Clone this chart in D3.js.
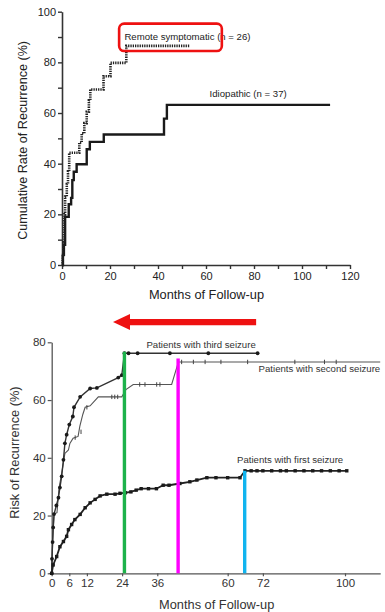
<!DOCTYPE html>
<html>
<head>
<meta charset="utf-8">
<script src="https://cdn.jsdelivr.net/npm/d3@7"></script>
<style>
  html, body { margin: 0; padding: 0; background: #fff; }
  svg { display: block; font-family: "Liberation Sans", Arial, sans-serif; }
</style>
</head>
<body>
<svg id="chart" width="385" height="612"></svg>
<script>
// ---- Upper panel: cumulative recurrence by aetiology (step curves) ----
const remoteMonths = [0, 0.3, 0.6, 1.0, 1.3, 2.0, 2.5, 3.0, 7.2, 8.2, 9.3, 10.3, 11.2, 11.8, 17.3, 20.2, 26.8, 53.3];
const remoteRate   = [0, 4, 9, 20, 27, 32, 37, 44.3, 48.3, 52, 56, 60.5, 65, 69.3, 74.5, 79.8, 86.5, 86.5];

const idioMonths = [0, 0.4, 0.8, 1.3, 2.8, 3.8, 4.3, 4.9, 6.1, 10.3, 11.6, 17.4, 42.5, 43.7, 111.7];
const idioRate   = [0, 4, 8, 19, 24, 26.5, 33.5, 36.8, 39.8, 45.7, 48.6, 51.5, 57.8, 63.2, 63.2];

const topXTicks = [0, 20, 40, 60, 80, 100, 120];
const topXMinor = [10, 30, 50, 70, 90, 110];
const topYTicks = [0, 20, 40, 60, 80, 100];
const topYMinor = [10, 30, 50, 70, 90];

// ---- Lower panel: risk of recurrence after first, second and third seizure ----
const thirdMonths = [0, 0.1, 0.3, 0.5, 0.8, 1.6, 2.3, 2.8, 3.4, 4.0, 4.5, 5.1, 6.0, 7.2, 7.6, 9.7, 13.1, 15.4, 22.7, 23.9, 24.8, 26.2, 29.3, 40.3, 53.4, 70.2];
const thirdRisk   = [0, 5, 10.8, 15.9, 20.5, 23.5, 26.2, 29.7, 33.6, 39.3, 45, 48, 51.5, 54.3, 57.5, 61.1, 64, 64.2, 67.8, 68.6, 76.2, 76.2, 76.2, 76.2, 76.2, 76.2];

const secondMonths = [0, 0.3, 0.8, 1.8, 2.5, 3.4, 4.5, 5.7, 6.2, 7.3, 9.0, 9.6, 10.6, 11.4, 13.1, 15.9, 23.9, 25.3, 27.8, 40.9, 43.2, 112];
const secondRisk   = [0, 10, 20.5, 21, 29.5, 34.6, 41.5, 42.7, 45, 46.8, 47.4, 51, 55, 57.5, 58, 61.1, 61.1, 63.6, 65.4, 65.4, 73.2, 73.2];
const secondCensorMonths = [3.0, 8.0, 10.0, 12.0, 20.5, 21.5, 22.5, 30, 31.8, 35.8, 36.9, 44.3, 48.3, 52.3, 57.7, 66.8, 82.9, 93, 97];
const secondCensorRisk   = [30, 47, 49, 57.5, 61.1, 61.1, 61.1, 65.4, 65.4, 65.4, 65.4, 73.2, 73.2, 73.2, 73.2, 73.2, 73.2, 73.2, 73.2];

const firstMonths = [0, 0.5, 1.7, 2.8, 4.0, 5.1, 5.7, 6.8, 7.9, 9.7, 11.4, 13.1, 14.8, 16.5, 18.8, 21.6, 23.3, 25.1, 27.0, 28.8, 30.5, 33, 35.7, 38, 40, 43.7, 47.1, 49.5, 52.9, 56, 60, 64.2, 65.9, 68, 70, 72, 75, 78, 80, 83, 86, 89, 92, 95, 98, 100.6];
const firstRisk   = [0, 2.9, 5.8, 9.2, 11, 12.8, 15.1, 16.9, 18.6, 20.4, 22.7, 24.4, 25.6, 26.8, 27.4, 27.4, 27.7, 27.9, 28.2, 28.8, 29.3, 29.3, 29.3, 30.5, 30.5, 31.1, 31.7, 32.3, 33.1, 33.1, 33.1, 33.1, 35.5, 35.5, 35.5, 35.5, 35.5, 35.5, 35.5, 35.5, 35.5, 35.5, 35.5, 35.5, 35.5, 35.5];

const botXTicks = [0, 6, 12, 24, 36, 60, 72, 100];
const botYTicks = [0, 20, 40, 60, 80];

// Highlight bars marking where each curve reaches its plateau
const markerMonths = [24.8, 43.1, 65.8];
const markerRisk   = [76.7, 74.4, 35.5];
const markerColors = ["#1db24b", "#ff00ff", "#10b4ef"];

const svg = d3.select("#chart");
const ink = "#1a1a1a";

// ================= Upper panel =================
const xT = d3.scaleLinear().domain([0, 120]).range([62, 350]);
const yT = d3.scaleLinear().domain([0, 100]).range([265, 11.7]);
const upper = svg.append("g");

upper.append("g").attr("transform", `translate(0,${yT(0)})`)
  .call(d3.axisBottom(xT).tickValues(topXTicks).tickSize(4).tickPadding(3).tickSizeOuter(0).tickFormat(d3.format("d")));
upper.append("g").attr("transform", `translate(0,${yT(0)})`)
  .call(d3.axisBottom(xT).tickValues(topXMinor).tickSize(4).tickFormat(""))
  .call(g => g.select(".domain").remove());
upper.append("g").attr("transform", `translate(${xT(0)},0)`)
  .call(d3.axisLeft(yT).tickValues(topYTicks).tickSize(4).tickPadding(2).tickSizeOuter(0).tickFormat(d3.format("d")));
upper.append("g").attr("transform", `translate(${xT(0)},0)`)
  .call(d3.axisLeft(yT).tickValues(topYMinor).tickSize(4).tickFormat(""))
  .call(g => g.select(".domain").remove());
upper.selectAll(".domain").attr("stroke", "#333").attr("stroke-width", 1.6);
upper.selectAll(".tick line").attr("stroke", "#333").attr("stroke-width", 1.4);
upper.selectAll(".tick text").attr("font-size", 11).attr("fill", "#222")
  .attr("font-family", "'Liberation Sans', Arial, sans-serif");

// step curves
const stepLine = (xs, ys) => d3.line().x((d, i) => xT(xs[i])).y((d, i) => yT(ys[i])).curve(d3.curveStepAfter)(xs);
upper.append("path").attr("d", stepLine(idioMonths, idioRate))
  .attr("fill", "none").attr("stroke", ink).attr("stroke-width", 2.4);
upper.append("path").attr("d", stepLine(remoteMonths, remoteRate))
  .attr("fill", "none").attr("stroke", "#222").attr("stroke-width", 2.6)
  .attr("stroke-dasharray", "1.3,1");

upper.append("text").attr("x", xT(26)).attr("y", yT(88.7))
  .attr("font-size", 9.6).attr("fill", "#222").text("Remote symptomatic (n = 26)");
upper.append("text").attr("x", xT(61.5)).attr("y", yT(66.2))
  .attr("font-size", 9.6).attr("fill", "#222").text("Idiopathic (n = 37)");

// red emphasis frame around the first legend text
upper.append("rect")
  .attr("x", xT(23.8)).attr("y", yT(95.3))
  .attr("width", xT(66.6) - xT(23.8)).attr("height", yT(84.5) - yT(95.3))
  .attr("rx", 5).attr("fill", "none").attr("stroke", "#ee1111").attr("stroke-width", 2.6);

upper.append("text").attr("transform", `translate(22.5,${yT(50) + 2}) rotate(-90)`)
  .attr("text-anchor", "middle").attr("dy", "0.35em").attr("font-size", 12.6).attr("fill", "#222")
  .text("Cumulative Rate of Recurrence (%)");
upper.append("text").attr("x", 206.5).attr("y", 299)
  .attr("text-anchor", "middle").attr("font-size", 12.8).attr("fill", "#222")
  .text("Months of Follow-up");

// ================= Lower panel =================
const xB = d3.scaleLinear().domain([0, 112]).range([51.7, 380.2]);
const yB = d3.scaleLinear().domain([0, 80]).range([573.3, 342.3]);
const lower = svg.append("g");

lower.append("g").attr("transform", `translate(0,${yB(0)})`)
  .call(d3.axisBottom(xB).tickValues(botXTicks).tickSize(3).tickPadding(3).tickSizeOuter(0).tickFormat(d3.format("d")));
lower.append("g").attr("transform", `translate(${xB(0)},0)`)
  .call(d3.axisLeft(yB).tickValues(botYTicks).tickSize(4).tickPadding(2).tickSizeOuter(0).tickFormat(d3.format("d")));
lower.selectAll(".domain").attr("stroke", "#555").attr("stroke-width", 1.3);
lower.selectAll(".tick line").attr("stroke", "#555").attr("stroke-width", 1.2);
lower.selectAll(".tick text").attr("font-size", 11.5).attr("fill", "#333")
  .attr("font-family", "'Liberation Sans', Arial, sans-serif");

const polyline = (xs, ys) => d3.line().x((d, i) => xB(xs[i])).y((d, i) => yB(ys[i]))(xs);

// second seizure: thin line with vertical censor ticks
lower.append("path").attr("d", polyline(secondMonths, secondRisk))
  .attr("fill", "none").attr("stroke", "#555").attr("stroke-width", 1.1);
lower.append("g").selectAll("line").data(secondCensorMonths).join("line")
  .attr("x1", d => xB(d)).attr("x2", d => xB(d))
  .attr("y1", (d, i) => yB(secondCensorRisk[i]) - 2.2)
  .attr("y2", (d, i) => yB(secondCensorRisk[i]) + 2.2)
  .attr("stroke", "#444").attr("stroke-width", 1);

// third seizure: line with filled dots
lower.append("path").attr("d", polyline(thirdMonths, thirdRisk))
  .attr("fill", "none").attr("stroke", "#333").attr("stroke-width", 1.4);
lower.append("g").selectAll("circle").data(thirdMonths).join("circle")
  .attr("cx", d => xB(d)).attr("cy", (d, i) => yB(thirdRisk[i])).attr("r", 1.9)
  .attr("fill", ink);

// first seizure: heavy line with square markers
lower.append("path").attr("d", polyline(firstMonths, firstRisk))
  .attr("fill", "none").attr("stroke", "#222").attr("stroke-width", 1.8);
lower.append("g").selectAll("rect").data(firstMonths).join("rect")
  .attr("x", d => xB(d) - 1.7).attr("y", (d, i) => yB(firstRisk[i]) - 1.7)
  .attr("width", 3.4).attr("height", 3.4).attr("fill", ink);

lower.append("text").attr("x", xB(32.3)).attr("y", yB(76.4) - 4.5)
  .attr("font-size", 9.6).attr("fill", "#333").text("Patients with third seizure");
lower.append("text").attr("x", xB(112)).attr("y", yB(70.5) + 2)
  .attr("text-anchor", "end").attr("font-size", 9.6).attr("fill", "#333").text("Patients with second seizure");
lower.append("text").attr("x", xB(63.2)).attr("y", yB(38.5) + 1)
  .attr("font-size", 9.6).attr("fill", "#333").text("Patients with first seizure");

// coloured plateau bars
lower.append("g").selectAll("line").data(markerMonths).join("line")
  .attr("x1", d => xB(d)).attr("x2", d => xB(d))
  .attr("y1", (d, i) => yB(markerRisk[i])).attr("y2", yB(0))
  .attr("stroke", (d, i) => markerColors[i]).attr("stroke-width", 3.4);

// red arrow pointing back toward the origin
const arrowFrom = 69.7, arrowTo = 20.9, arrowLevel = 87;
const ay = yB(arrowLevel);
lower.append("line").attr("x1", xB(arrowFrom)).attr("x2", xB(arrowTo) + 12)
  .attr("y1", ay).attr("y2", ay).attr("stroke", "#ee1111").attr("stroke-width", 6.2);
lower.append("path")
  .attr("d", `M${xB(arrowTo)},${ay} L${xB(arrowTo) + 17},${ay - 8} L${xB(arrowTo) + 17},${ay + 8} Z`)
  .attr("fill", "#ee1111");

lower.append("text").attr("transform", `translate(15,452.5) rotate(-90)`)
  .attr("text-anchor", "middle").attr("dy", "0.35em").attr("font-size", 12.8).attr("fill", "#333")
  .text("Risk of Recurrence (%)");
lower.append("text").attr("x", 216.7).attr("y", 609)
  .attr("text-anchor", "middle").attr("font-size", 12.8).attr("fill", "#333")
  .text("Months of Follow-up");
</script>
</body>
</html>
